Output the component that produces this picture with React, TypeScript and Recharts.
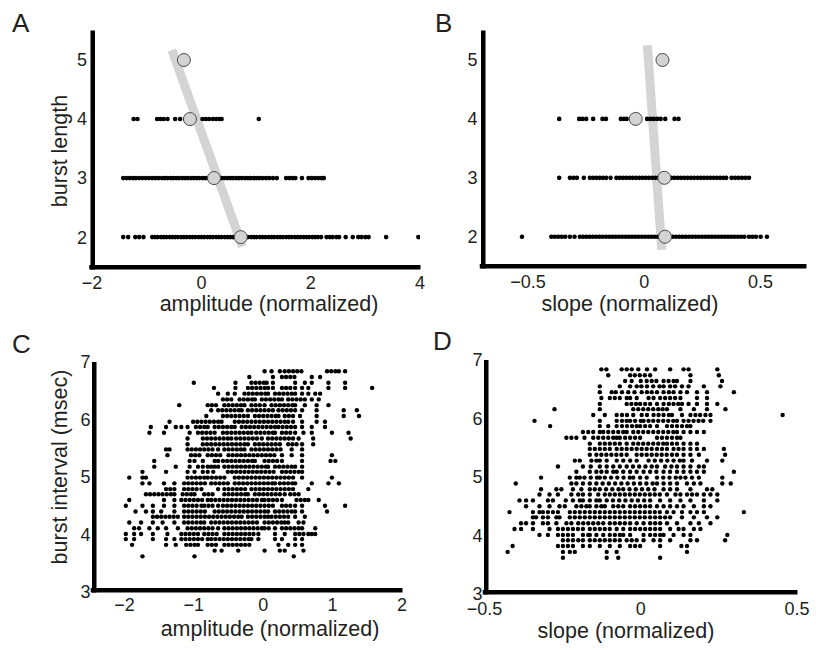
import React from 'react';
import { ScatterChart, Scatter, XAxis, YAxis, ReferenceLine } from 'recharts';

const FONT = '"Liberation Sans", Arial, Helvetica, sans-serif';
const TEXT = '#231f20';

// ---------- Panel A : burst length vs amplitude ----------
const burstLengths = [2, 3, 4, 5];
const aAmpLen2 = [-1.43, -1.34, -1.21, -1.14, -1.06, -0.9, -0.85, -0.8, -0.74, -0.69, -0.64, -0.58, -0.53, -0.48, -0.43, -0.37, -0.32, -0.27, -0.21, -0.16, -0.11, -0.05, 0.0, 0.05, 0.11, 0.16, 0.21, 0.27, 0.32, 0.37, 0.43, 0.48, 0.53, 0.58, 0.63, 0.8, 0.85, 0.91, 0.96, 1.01, 1.07, 1.12, 1.17, 1.23, 1.28, 1.33, 1.39, 1.44, 1.49, 1.55, 1.6, 1.65, 1.71, 1.76, 1.81, 1.87, 1.92, 1.97, 2.03, 2.08, 2.13, 2.19, 2.29, 2.35, 2.4, 2.47, 2.52, 2.64, 2.77, 2.87, 2.93, 3.0, 3.06, 3.38, 3.97];
const aAmpLen3 = [-1.43, -1.37, -1.31, -1.25, -1.2, -1.14, -1.08, -1.02, -0.96, -0.9, -0.84, -0.78, -0.72, -0.67, -0.62, -0.56, -0.51, -0.46, -0.41, -0.35, -0.3, -0.25, -0.19, -0.14, -0.09, -0.04, 0.02, 0.07, 0.12, 0.32, 0.37, 0.42, 0.48, 0.53, 0.58, 0.64, 0.69, 0.74, 0.8, 0.85, 0.9, 0.96, 1.01, 1.06, 1.12, 1.18, 1.24, 1.31, 1.38, 1.55, 1.61, 1.67, 1.72, 1.84, 1.96, 2.02, 2.08, 2.14, 2.2, 2.24];
const aAmpLen4 = [-1.24, -1.17, -0.81, -0.75, -0.69, -0.62, -0.48, -0.39, -0.3, 0.02, 0.08, 0.14, 0.21, 0.27, 0.33, 0.37, 1.05];
const aAmpLen5: number[] = [];
const aMeanAmp = [0.72, 0.23, -0.21, -0.32];
const aFitAmp = [-0.54, 0.75];
const aFitLen = [5.17, 1.84];

// ---------- Panel B : burst length vs slope ----------
const bSlopeLen2 = [-0.526, -0.4, -0.385, -0.37, -0.355, -0.34, -0.32, -0.3, -0.277, -0.263, -0.249, -0.235, -0.221, -0.207, -0.193, -0.179, -0.165, -0.151, -0.137, -0.123, -0.109, -0.095, -0.081, -0.067, -0.053, -0.039, -0.025, -0.011, 0.003, 0.017, 0.031, 0.045, 0.059, 0.073, 0.108, 0.122, 0.136, 0.15, 0.164, 0.178, 0.192, 0.206, 0.22, 0.234, 0.248, 0.262, 0.276, 0.29, 0.304, 0.318, 0.332, 0.346, 0.36, 0.374, 0.388, 0.402, 0.416, 0.43, 0.45, 0.465, 0.48, 0.5, 0.527];
const bSlopeLen3 = [-0.366, -0.32, -0.305, -0.29, -0.26, -0.234, -0.22, -0.206, -0.192, -0.178, -0.164, -0.145, -0.12, -0.106, -0.092, -0.078, -0.064, -0.05, -0.036, -0.022, -0.008, 0.006, 0.02, 0.034, 0.048, 0.062, 0.075, 0.102, 0.116, 0.13, 0.144, 0.158, 0.172, 0.186, 0.2, 0.214, 0.228, 0.242, 0.256, 0.27, 0.284, 0.298, 0.312, 0.326, 0.34, 0.352, 0.375, 0.39, 0.405, 0.42, 0.435, 0.45];
const bSlopeLen4 = [-0.366, -0.28, -0.266, -0.25, -0.22, -0.18, -0.165, -0.101, -0.088, -0.076, 0.012, 0.026, 0.04, 0.055, 0.07, 0.09, 0.13, 0.147];
const bSlopeLen5: number[] = [];
const bMeanSlope = [0.089, 0.086, -0.037, 0.078];
const bFitSlope = [0.013, 0.075];
const bFitLen = [5.25, 1.78];

// ---------- Panels C & D : burst interval rows ----------
const burstIntervals = [6.84, 6.74, 6.64, 6.55, 6.45, 6.35, 6.25, 6.16, 6.06, 5.96, 5.87, 5.77, 5.67, 5.57, 5.48, 5.38, 5.28, 5.18, 5.09, 4.99, 4.89, 4.79, 4.7, 4.6, 4.5, 4.4, 4.31, 4.21, 4.11, 4.01, 3.92, 3.82, 3.72, 3.62];

const cAmplitudeRows: number[][] = [
  [0.02, 0.12, 0.24, 0.31, 0.37, 0.43, 0.49, 0.55, 0.92, 0.98, 1.04, 1.09, 1.18],
  [-0.2, 0.14, 0.27, 0.33, 0.39, 0.45, 0.7, 0.82],
  [-1.0, -0.4, -0.17, -0.11, -0.05, 0.01, 0.05, 0.14, 0.46, 0.6, 0.7, 0.94, 1.18],
  [-0.71, -0.4, -0.22, -0.16, -0.1, -0.04, 0.02, 0.07, 0.14, 0.27, 0.33, 0.39, 0.46, 0.56, 0.65, 0.94, 1.18, 1.57],
  [-0.65, -0.51, -0.41, -0.27, -0.21, -0.15, -0.09, -0.03, 0.03, 0.07, 0.17, 0.23, 0.29, 0.35, 0.41, 0.46, 0.56, 0.65, 0.75, 0.82],
  [-0.58, -0.52, -0.46, -0.34, -0.28, -0.22, -0.16, -0.12, -0.02, 0.04, 0.1, 0.16, 0.22, 0.27, 0.36, 0.42, 0.48, 0.54, 0.6, 0.7, 0.8],
  [-1.21, -0.8, -0.74, -0.68, -0.56, -0.5, -0.44, -0.38, -0.32, -0.27, -0.17, -0.11, -0.05, 0.02, 0.12, 0.18, 0.24, 0.3, 0.36, 0.42, 0.46, 0.6, 0.77, 0.94],
  [-0.75, -0.65, -0.59, -0.53, -0.47, -0.41, -0.35, -0.31, -0.22, -0.16, -0.1, -0.04, 0.02, 0.08, 0.14, 0.22, 0.28, 0.34, 0.4, 0.46, 0.56, 0.77, 1.16, 1.35],
  [-0.82, -0.58, -0.52, -0.46, -0.4, -0.34, -0.28, -0.22, -0.12, -0.06, 0.0, 0.06, 0.12, 0.18, 0.22, 0.31, 0.37, 0.43, 0.53, 0.77, 1.16, 1.38],
  [-1.35, -1.01, -0.95, -0.89, -0.83, -0.77, -0.71, -0.65, -0.6, -0.41, -0.35, -0.29, -0.23, -0.17, -0.11, -0.05, 0.01, 0.07, 0.13, 0.19, 0.25, 0.31, 0.36, 0.43, 0.56, 0.77, 0.89],
  [-1.62, -1.4, -1.26, -1.18, -1.09, -0.97, -0.91, -0.85, -0.8, -0.7, -0.64, -0.58, -0.52, -0.46, -0.41, -0.31, -0.25, -0.19, -0.13, -0.07, -0.01, 0.05, 0.11, 0.17, 0.22, 0.28, 0.34, 0.4, 0.46, 0.56, 0.7, 0.89],
  [-1.64, -1.43, -1.06, -0.94, -0.88, -0.82, -0.76, -0.7, -0.58, -0.52, -0.46, -0.4, -0.34, -0.28, -0.22, -0.17, -0.1, -0.04, 0.02, 0.08, 0.14, 0.17, 0.27, 0.33, 0.39, 0.46, 0.58, 0.7, 0.99, 1.23],
  [-1.09, -0.87, -0.81, -0.75, -0.69, -0.63, -0.57, -0.51, -0.46, -0.39, -0.33, -0.27, -0.21, -0.15, -0.09, -0.02, 0.07, 0.13, 0.19, 0.25, 0.31, 0.37, 0.43, 0.51, 0.72, 1.26],
  [-1.09, -0.87, -0.81, -0.75, -0.69, -0.63, -0.57, -0.51, -0.45, -0.39, -0.33, -0.27, -0.22, -0.12, -0.06, 0.0, 0.06, 0.12, 0.18, 0.24, 0.36, 0.42, 0.48, 0.56, 0.72],
  [-1.4, -1.35, -1.09, -1.03, -0.97, -0.91, -0.85, -0.79, -0.73, -0.65, -0.56, -0.5, -0.44, -0.38, -0.32, -0.27, -0.17, -0.11, -0.05, 0.01, 0.07, 0.13, 0.19, 0.25, 0.41, 0.56],
  [-1.38, -1.04, -0.98, -0.92, -0.8, -0.74, -0.68, -0.62, -0.5, -0.44, -0.38, -0.32, -0.26, -0.2, -0.14, -0.08, -0.02, 0.04, 0.1, 0.16, 0.27, 0.41, 0.56, 0.99],
  [-1.57, -1.06, -0.99, -0.87, -0.7, -0.65, -0.58, -0.52, -0.46, -0.4, -0.34, -0.28, -0.22, -0.16, -0.12, 0.02, 0.08, 0.14, 0.2, 0.27, 0.56, 0.97, 1.04],
  [-1.57, -1.26, -1.06, -0.94, -0.87, -0.8, -0.75, -0.7, -0.65, -0.56, -0.5, -0.44, -0.38, -0.32, -0.26, -0.2, -0.14, -0.08, -0.02, 0.04, 0.07, 0.17, 0.23, 0.29, 0.35, 0.41, 0.46, 0.56],
  [-1.74, -1.4, -1.09, -0.99, -0.87, -0.8, -0.72, -0.51, -0.45, -0.39, -0.33, -0.27, -0.21, -0.15, -0.09, -0.03, 0.03, 0.09, 0.15, 0.27, 0.33, 0.39, 0.45, 0.51, 0.56],
  [-1.93, -1.74, -1.69, -1.09, -1.03, -0.97, -0.91, -0.85, -0.8, -0.74, -0.68, -0.62, -0.56, -0.41, -0.35, -0.29, -0.23, -0.17, -0.11, -0.05, 0.01, 0.07, 0.13, 0.19, 0.25, 0.31, 0.37, 0.43, 0.56, 0.99],
  [-1.74, -1.64, -1.43, -1.28, -1.14, -1.08, -1.02, -0.96, -0.9, -0.84, -0.75, -0.69, -0.63, -0.57, -0.51, -0.41, -0.35, -0.29, -0.23, -0.17, -0.11, -0.05, 0.01, 0.07, 0.13, 0.17, 0.24, 0.3, 0.36, 0.42, 0.46, 0.7, 0.94, 1.09],
  [-1.4, -1.34, -1.28, -1.14, -1.08, -1.02, -0.96, -0.89, -0.65, -0.56, -0.5, -0.44, -0.38, -0.32, -0.26, -0.17, -0.11, -0.05, 0.01, 0.07, 0.13, 0.19, 0.25, 0.31, 0.37, 0.43, 0.65],
  [-1.69, -1.63, -1.57, -1.51, -1.45, -1.39, -1.33, -1.28, -1.16, -1.1, -1.04, -0.99, -0.85, -0.79, -0.73, -0.56, -0.5, -0.44, -0.38, -0.32, -0.26, -0.22, -0.12, -0.06, 0.0, 0.06, 0.12, 0.18, 0.24, 0.31, 0.39, 0.45, 0.51],
  [-1.93, -1.43, -1.28, -1.18, -1.12, -1.06, -1.0, -0.94, -0.88, -0.8, -0.75, -0.69, -0.63, -0.57, -0.51, -0.45, -0.39, -0.33, -0.27, -0.21, -0.15, -0.09, -0.02, 0.02, 0.08, 0.14, 0.2, 0.27, 0.48, 0.54, 0.6, 0.65, 0.8],
  [-1.98, -1.74, -1.59, -1.43, -1.28, -1.14, -1.08, -1.02, -0.96, -0.89, -0.85, -0.79, -0.73, -0.65, -0.58, -0.52, -0.46, -0.4, -0.34, -0.28, -0.22, -0.16, -0.1, -0.04, 0.02, 0.08, 0.14, 0.27, 0.33, 0.39, 0.46, 0.56, 0.89, 1.18],
  [-1.84, -1.69, -1.59, -1.47, -1.28, -1.14, -1.08, -1.02, -0.96, -0.9, -0.84, -0.7, -0.64, -0.58, -0.52, -0.46, -0.4, -0.34, -0.28, -0.22, -0.16, -0.1, -0.04, 0.02, 0.07, 0.17, 0.23, 0.29, 0.35, 0.41, 0.46, 0.56, 0.92],
  [-1.59, -1.53, -1.47, -1.41, -1.35, -1.29, -1.23, -1.14, -1.08, -1.02, -0.96, -0.9, -0.84, -0.78, -0.72, -0.66, -0.6, -0.54, -0.48, -0.42, -0.36, -0.31, -0.22, -0.16, -0.1, -0.04, 0.02, 0.07, 0.12, 0.18, 0.24, 0.3, 0.36, 0.46, 0.6],
  [-1.93, -1.76, -1.59, -1.45, -1.28, -1.14, -1.08, -1.02, -0.96, -0.9, -0.85, -0.75, -0.69, -0.63, -0.57, -0.51, -0.45, -0.39, -0.33, -0.27, -0.21, -0.15, -0.09, 0.02, 0.08, 0.14, 0.2, 0.26, 0.31, 0.36, 0.51, 0.58],
  [-1.86, -1.79, -1.64, -1.52, -1.4, -1.23, -1.09, -1.03, -0.97, -0.91, -0.85, -0.79, -0.73, -0.65, -0.56, -0.5, -0.44, -0.38, -0.32, -0.26, -0.2, -0.14, -0.08, -0.02, 0.02, 0.08, 0.17, 0.27, 0.33, 0.39, 0.45, 0.51, 0.56, 0.75],
  [-1.98, -1.86, -1.76, -1.59, -1.38, -1.18, -1.12, -1.06, -1.0, -0.94, -0.85, -0.79, -0.73, -0.67, -0.56, -0.5, -0.44, -0.38, -0.32, -0.26, -0.2, -0.14, -0.07, 0.17, 0.31, 0.46, 0.52, 0.58, 0.65, 0.7, 0.75],
  [-1.98, -1.86, -1.59, -1.4, -1.28, -1.18, -1.12, -1.06, -1.0, -0.94, -0.88, -0.8, -0.75, -0.69, -0.63, -0.57, -0.51, -0.45, -0.39, -0.33, -0.27, -0.21, -0.17, -0.07, 0.17, 0.27, 0.46, 0.56],
  [-1.89, -1.4, -1.26, -1.11, -1.05, -0.99, -0.94, -0.8, -0.74, -0.68, -0.56, -0.5, -0.44, -0.38, -0.32, -0.26, -0.2, 0.22, 0.36, 0.46, 0.56],
  [-0.7, -0.6, -0.36, 0.02, 0.24, 0.31, 0.58],
  [-1.74, -0.99, 0.44],
];

const dSlopeRows: number[][] = [
  [-0.126, -0.11, -0.061, -0.045, -0.029, -0.008, 0.02, 0.046, 0.094, 0.137, 0.153, 0.245],
  [-0.104, -0.034, -0.019, -0.003, 0.013, 0.03, 0.159, 0.25],
  [-0.05, -0.029, 0.0, 0.019, 0.035, 0.05, 0.073, 0.089, 0.105, 0.116, 0.159, 0.26],
  [-0.131, -0.067, -0.034, -0.013, 0.002, 0.02, 0.04, 0.06, 0.073, 0.094, 0.11, 0.132, 0.153, 0.202, 0.255],
  [-0.131, -0.093, -0.08, -0.06, -0.04, -0.02, 0.003, 0.02, 0.035, 0.052, 0.073, 0.09, 0.105, 0.127, 0.148, 0.18, 0.212, 0.298],
  [-0.126, -0.099, -0.083, -0.067, -0.045, -0.034, -0.013, 0.025, 0.041, 0.062, 0.078, 0.094, 0.11, 0.127, 0.18, 0.212],
  [-0.131, -0.045, -0.03, -0.015, -0.002, 0.014, 0.03, 0.052, 0.073, 0.09, 0.105, 0.12, 0.132, 0.153, 0.18, 0.212, 0.245],
  [-0.276, -0.131, -0.024, -0.008, 0.008, 0.024, 0.04, 0.056, 0.07, 0.084, 0.127, 0.17, 0.212, 0.271],
  [-0.152, -0.115, -0.077, -0.06, -0.044, -0.024, 0.003, 0.02, 0.041, 0.057, 0.073, 0.09, 0.1, 0.132, 0.159, 0.175, 0.19, 0.207, 0.223, 0.454],
  [-0.34, -0.131, -0.077, -0.06, -0.045, -0.034, -0.018, 0.0, 0.009, 0.025, 0.04, 0.056, 0.072, 0.088, 0.104, 0.116, 0.137, 0.153, 0.169, 0.185, 0.2, 0.223],
  [-0.29, -0.131, -0.104, -0.077, -0.06, -0.044, -0.028, -0.013, -0.002, 0.014, 0.03, 0.052, 0.084, 0.1, 0.116, 0.132, 0.148, 0.159],
  [-0.185, -0.168, -0.152, -0.131, -0.12, -0.104, -0.088, -0.072, -0.056, -0.045, -0.024, -0.008, 0.008, 0.024, 0.04, 0.056, 0.072, 0.088, 0.104, 0.116, 0.137, 0.159, 0.18, 0.202],
  [-0.238, -0.222, -0.206, -0.18, -0.152, -0.136, -0.12, -0.104, -0.088, -0.077, -0.067, -0.05, -0.034, -0.018, -0.002, 0.052, 0.068, 0.084, 0.1, 0.116, 0.127],
  [-0.163, -0.131, -0.115, -0.099, -0.083, -0.067, -0.045, -0.024, -0.008, 0.008, 0.024, 0.04, 0.056, 0.072, 0.084, 0.1, 0.116, 0.137, 0.159, 0.18],
  [-0.163, -0.147, -0.131, -0.115, -0.099, -0.077, -0.061, -0.045, -0.029, -0.013, 0.003, 0.019, 0.035, 0.052, 0.068, 0.084, 0.105, 0.121, 0.137, 0.159, 0.18, 0.202, 0.266],
  [-0.163, -0.142, -0.126, -0.11, -0.094, -0.078, -0.062, -0.045, -0.013, 0.003, 0.019, 0.035, 0.051, 0.067, 0.083, 0.1, 0.116, 0.137, 0.159, 0.186, 0.27],
  [-0.211, -0.195, -0.158, -0.142, -0.131, -0.109, -0.077, -0.056, -0.034, -0.013, 0.025, 0.045, 0.065, 0.085, 0.105, 0.125, 0.137, 0.164, 0.212, 0.261],
  [-0.265, -0.185, -0.16, -0.131, -0.109, -0.088, -0.067, -0.045, -0.025, -0.005, 0.015, 0.035, 0.052, 0.078, 0.098, 0.116, 0.137, 0.159, 0.186, 0.202],
  [-0.206, -0.163, -0.142, -0.126, -0.109, -0.088, -0.077, -0.056, -0.034, -0.013, 0.009, 0.03, 0.05, 0.073, 0.094, 0.116, 0.137, 0.159, 0.18, 0.202, 0.298],
  [-0.319, -0.227, -0.206, -0.195, -0.18, -0.16, -0.14, -0.131, -0.115, -0.095, -0.075, -0.055, -0.035, -0.024, -0.002, 0.019, 0.052, 0.072, 0.092, 0.112, 0.127, 0.143, 0.164, 0.186, 0.261],
  [-0.4, -0.222, -0.206, -0.185, -0.163, -0.142, -0.122, -0.102, -0.082, -0.062, -0.042, -0.022, -0.002, 0.018, 0.038, 0.052, 0.073, 0.094, 0.116, 0.148, 0.17, 0.191, 0.261, 0.288],
  [-0.319, -0.27, -0.254, -0.217, -0.19, -0.163, -0.147, -0.131, -0.111, -0.091, -0.071, -0.056, -0.036, -0.016, 0.004, 0.024, 0.044, 0.073, 0.094, 0.116, 0.159, 0.212, 0.229],
  [-0.324, -0.292, -0.265, -0.222, -0.2, -0.185, -0.163, -0.136, -0.115, -0.099, -0.083, -0.067, -0.051, -0.035, -0.019, -0.003, 0.013, 0.029, 0.045, 0.061, 0.084, 0.111, 0.127, 0.148, 0.164, 0.18, 0.202, 0.223, 0.245],
  [-0.388, -0.367, -0.345, -0.297, -0.281, -0.24, -0.217, -0.195, -0.185, -0.163, -0.142, -0.131, -0.109, -0.089, -0.069, -0.049, -0.029, -0.009, 0.011, 0.03, 0.062, 0.094, 0.127, 0.159, 0.202, 0.245],
  [-0.367, -0.324, -0.292, -0.26, -0.243, -0.206, -0.19, -0.174, -0.163, -0.142, -0.126, -0.115, -0.088, -0.072, -0.056, -0.034, -0.018, -0.002, 0.014, 0.03, 0.052, 0.073, 0.094, 0.116, 0.137, 0.17, 0.202, 0.223],
  [-0.42, -0.345, -0.324, -0.313, -0.297, -0.281, -0.265, -0.227, -0.211, -0.195, -0.179, -0.163, -0.147, -0.131, -0.115, -0.099, -0.083, -0.067, -0.051, -0.035, -0.019, -0.003, 0.013, 0.029, 0.045, 0.061, 0.084, 0.105, 0.132, 0.159, 0.18, 0.202, 0.33],
  [-0.345, -0.335, -0.313, -0.297, -0.27, -0.26, -0.227, -0.211, -0.195, -0.179, -0.163, -0.147, -0.131, -0.115, -0.099, -0.083, -0.067, -0.051, -0.035, -0.019, -0.003, 0.013, 0.03, 0.046, 0.062, 0.078, 0.094, 0.132, 0.17, 0.212, 0.245],
  [-0.383, -0.367, -0.345, -0.313, -0.297, -0.27, -0.238, -0.222, -0.2, -0.184, -0.168, -0.152, -0.136, -0.12, -0.099, -0.083, -0.067, -0.051, -0.034, -0.013, 0.009, 0.03, 0.046, 0.062, 0.084, 0.116, 0.159, 0.186, 0.223],
  [-0.404, -0.383, -0.345, -0.292, -0.265, -0.249, -0.233, -0.217, -0.201, -0.185, -0.163, -0.147, -0.131, -0.115, -0.099, -0.077, -0.056, -0.034, -0.018, -0.002, 0.014, 0.03, 0.046, 0.062, 0.094, 0.121, 0.137, 0.17, 0.191],
  [-0.324, -0.297, -0.265, -0.249, -0.233, -0.217, -0.185, -0.168, -0.163, -0.142, -0.12, -0.099, -0.083, -0.067, -0.056, -0.034, 0.009, 0.03, 0.046, 0.062, 0.073, 0.105, 0.137, 0.159, 0.277],
  [-0.249, -0.233, -0.217, -0.2, -0.185, -0.163, -0.147, -0.131, -0.115, -0.099, -0.083, -0.067, -0.045, -0.029, -0.013, 0.009, 0.041, 0.062, 0.094, 0.159, 0.18, 0.27],
  [-0.41, -0.265, -0.249, -0.233, -0.217, -0.185, -0.163, -0.131, -0.099, -0.067, -0.034, -0.018, -0.002, 0.062, 0.13, 0.148],
  [-0.426, -0.249, -0.227, -0.211, -0.109, -0.077, 0.148],
  [-0.249, -0.109, -0.072, 0.062],
];

// ---------- tick labels ----------
const aXTicks = [-2, 0, 2, 4];
const bXTicks = [-0.5, 0, 0.5];
const cXTicks = [-2, -1, 0, 1, 2];
const dXTicks = [-0.5, 0, 0.5];
const lengthTicks = [2, 3, 4, 5];
const intervalTicks = [3, 4, 5, 6, 7];

type Pt = { x: number; y: number };

const rowsToPoints = (rows: number[][], ys: number[]): Pt[] =>
  rows.flatMap((xs, i) => xs.map((x) => ({ x, y: ys[i] })));

const aDots = rowsToPoints([aAmpLen2, aAmpLen3, aAmpLen4, aAmpLen5], burstLengths);
const bDots = rowsToPoints([bSlopeLen2, bSlopeLen3, bSlopeLen4, bSlopeLen5], burstLengths);
const aMeans: Pt[] = aMeanAmp.map((x, i) => ({ x, y: burstLengths[i] }));
const bMeans: Pt[] = bMeanSlope.map((x, i) => ({ x, y: burstLengths[i] }));
const aFit: Pt[] = aFitAmp.map((x, i) => ({ x, y: aFitLen[i] }));
const bFit: Pt[] = bFitSlope.map((x, i) => ({ x, y: bFitLen[i] }));
const cDots = rowsToPoints(cAmplitudeRows, burstIntervals);
const dDots = rowsToPoints(dSlopeRows, burstIntervals);

const fmt = (v: number) => (v < 0 ? '\u2212' + Math.abs(v) : String(v));

const tickStyle = { fontSize: 18, fill: TEXT, fontFamily: FONT };

// Thick frame line, nudged inward so that it stays fully inside the plot area.
const AXIS_W = 4.5;
const ThickAxisLine = (s: any) => {
  const vertical = Math.abs(s.x1 - s.x2) < 0.01;
  const dx = vertical ? AXIS_W / 2 - 0.5 : 0;
  const dy = vertical ? 0 : -(AXIS_W / 2 - 0.5);
  const lo = Math.min(s.x1, s.x2);
  const hi = Math.max(s.x1, s.x2);
  return (
    <rect
      x={vertical ? s.x1 + dx - AXIS_W / 2 : lo - AXIS_W / 2 + 0.5}
      y={vertical ? Math.min(s.y1, s.y2) : s.y1 + dy - AXIS_W / 2}
      width={vertical ? AXIS_W : hi - lo + AXIS_W / 2}
      height={vertical ? Math.abs(s.y2 - s.y1) + 0.5 : AXIS_W}
      fill="#000"
    />
  );
};

type PanelProps = {
  margin: { top: number; right: number; bottom: number; left: number };
  xDomain: [number, number];
  yDomain: [number, number];
  xTicks: number[];
  yTicks: number[];
  dots: Pt[];
  dotR: number;
  means?: Pt[];
  fit?: Pt[];
  xTickMargin: number;
  yTickMargin: number;
};

function Panel(p: PanelProps) {
  return (
    <div style={{ position: 'absolute', left: 0, top: 0 }}>
      <ScatterChart width={816} height={650} margin={p.margin}>
        <XAxis
          type="number"
          dataKey="x"
          domain={p.xDomain}
          ticks={p.xTicks}
          allowDataOverflow
          interval={0}
          tickFormatter={fmt}
          axisLine={false}
          tickLine={false}
          tickSize={0}
          tickMargin={p.xTickMargin}
          height={30}
          tick={tickStyle}
        />
        <YAxis
          type="number"
          dataKey="y"
          domain={p.yDomain}
          ticks={p.yTicks}
          allowDataOverflow
          interval={0}
          tickFormatter={fmt}
          axisLine={false}
          tickLine={false}
          tickSize={0}
          tickMargin={p.yTickMargin}
          width={30}
          tick={tickStyle}
        />
        {p.fit && (
          <Scatter
            data={p.fit}
            line={{ stroke: '#d4d4d4', strokeWidth: 9 }}
            shape={() => <g />}
            isAnimationActive={false}
          />
        )}
        <Scatter
          data={p.dots}
          shape={(s: any) => <circle cx={s.cx} cy={s.cy} r={p.dotR} fill="#000" />}
          isAnimationActive={false}
        />
        {p.means && (
          <Scatter
            data={p.means}
            shape={(s: any) => (
              <circle cx={s.cx} cy={s.cy} r={6.5} fill="#d3d3d3" stroke="#4a4a4a" strokeWidth={1} />
            )}
            isAnimationActive={false}
          />
        )}
        <ReferenceLine x={p.xDomain[0]} ifOverflow="visible" shape={ThickAxisLine} />
        <ReferenceLine y={p.yDomain[0]} ifOverflow="visible" shape={ThickAxisLine} />
      </ScatterChart>
    </div>
  );
}

export default function App() {
  return (
    <div
      style={{
        position: 'absolute',
        left: 0,
        top: 0,
        width: 816,
        height: 650,
        background: '#fff',
        overflow: 'hidden',
      }}
    >
      <Panel
        margin={{ top: 30.5, left: 61, right: 396, bottom: 351 }}
        xDomain={[-2.02, 4]}
        yDomain={[1.46, 5.5]}
        xTicks={aXTicks}
        yTicks={lengthTicks}
        dots={aDots}
        dotR={2.3}
        means={aMeans}
        fit={aFit}
        xTickMargin={7}
        yTickMargin={4}
      />
      <Panel
        margin={{ top: 30.5, left: 451.5, right: 10, bottom: 352 }}
        xDomain={[-0.7, 0.695]}
        yDomain={[1.47, 5.5]}
        xTicks={bXTicks}
        yTicks={lengthTicks}
        dots={bDots}
        dotR={2.3}
        means={bMeans}
        fit={bFit}
        xTickMargin={7}
        yTickMargin={4}
      />
      <Panel
        margin={{ top: 362, left: 62.5, right: 414, bottom: 28 }}
        xDomain={[-2.46, 2]}
        yDomain={[3, 7]}
        xTicks={cXTicks}
        yTicks={intervalTicks}
        dots={cDots}
        dotR={2.2}
        xTickMargin={6}
        yTickMargin={2}
      />
      <Panel
        margin={{ top: 360, left: 454.5, right: 19, bottom: 26 }}
        xDomain={[-0.5, 0.5]}
        yDomain={[3, 7]}
        xTicks={dXTicks}
        yTicks={intervalTicks}
        dots={dDots}
        dotR={2.2}
        xTickMargin={8}
        yTickMargin={2}
      />
      <svg
        width={816}
        height={650}
        style={{ position: 'absolute', left: 0, top: 0, pointerEvents: 'none' }}
        fontFamily={FONT}
        fill={TEXT}
      >
        <text x={12} y={32} fontSize={26}>A</text>
        <text x={435} y={32} fontSize={26}>B</text>
        <text x={12} y={353} fontSize={26}>C</text>
        <text x={433} y={350} fontSize={26}>D</text>
        <text x={67} y={151} fontSize={21.5} textAnchor="middle" transform="rotate(-90 67 151)">burst length</text>
        <text x={67} y={467} fontSize={21.5} textAnchor="middle" transform="rotate(-90 67 467)">burst interval (msec)</text>
        <text x={269} y={311} fontSize={21.5} textAnchor="middle">amplitude (normalized)</text>
        <text x={630} y={311} fontSize={21.5} textAnchor="middle">slope (normalized)</text>
        <text x={270} y={636} fontSize={21.5} textAnchor="middle">amplitude (normalized)</text>
        <text x={626} y={638} fontSize={21.5} textAnchor="middle">slope (normalized)</text>
      </svg>
    </div>
  );
}
